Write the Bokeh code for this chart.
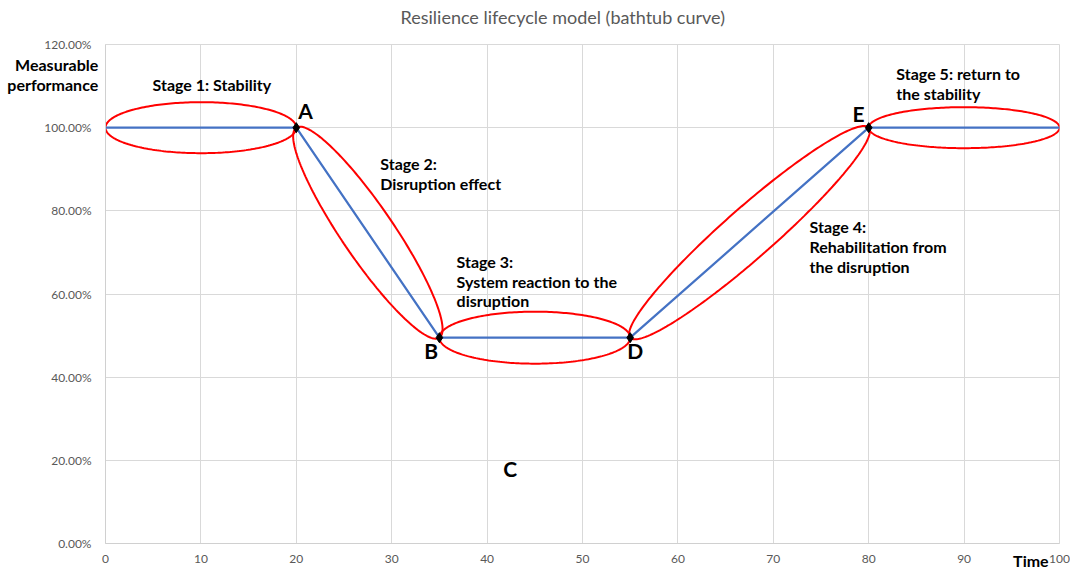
import numpy as np
from bokeh.plotting import figure
from bokeh.models import Range1d, FixedTicker, PrintfTickFormatter, Label, LinearAxis, Title
from bokeh.embed import file_html
from bokeh.resources import INLINE

# ---- data ----
time = [0, 20, 35, 55, 80, 100]
performance = [100, 100, 49.5, 49.5, 100, 100]
point_idx = [1, 2, 3, 4]
stage_names = [
    "Stage 1: Stability",
    "Stage 2:\nDisruption effect",
    "Stage 3:\nSystem reaction to the\ndisruption",
    "Stage 4:\nRehabilitation from\nthe disruption",
    "Stage 5: return to\nthe stability",
]
x_ticks = [0, 10, 20, 30, 40, 50, 60, 70, 80, 90, 100]
y_ticks = [0, 20, 40, 60, 80, 100, 120]

FW, FH = 954, 499
ellipse_minor_px = [25.5, 26, 26, 25, 20.5]

p = figure(frame_width=FW, frame_height=FH, output_backend="svg", toolbar_location=None,
           x_range=Range1d(0, 100), y_range=Range1d(0, 120),
           min_border_left=105, min_border_right=11, min_border_top=44, min_border_bottom=24,
           title="Resilience lifecycle model (bathtub curve)")
p.title.align = "left"
p.title.offset = 295
p.title.standoff = 0
p.title.vertical_align = "bottom"
p.title.text_font = "Lato"
p.title.text_font_style = "normal"
p.title.text_font_size = "18px"
p.title.text_color = "#595959"
# blank spacer between the title and the frame
p.add_layout(Title(text=" ", text_font_size="1px", standoff=14), "above")
p.outline_line_color = "#d9d9d9"
p.background_fill_color = "white"
p.border_fill_color = "white"

xa, ya = p.xaxis[0], p.yaxis[0]
for ax in (xa, ya):
    ax.major_tick_line_color = None
    ax.minor_tick_line_color = None
    ax.axis_line_color = "#d0d0d0"
    ax.major_label_text_color = "#595959"
    ax.major_label_text_font = "Lato"
    ax.major_label_text_font_size = "12px"
xa.ticker = FixedTicker(ticks=x_ticks)
ya.ticker = FixedTicker(ticks=y_ticks)
ya.formatter = PrintfTickFormatter(format="%.2f%%")
xa.major_label_standoff = 5
ya.major_label_standoff = 8
p.xgrid.ticker = FixedTicker(ticks=x_ticks)
p.ygrid.ticker = FixedTicker(ticks=y_ticks)
p.xgrid.grid_line_color = "#d9d9d9"
p.ygrid.grid_line_color = "#d9d9d9"

# y axis title, horizontal, at the top of the axis
ya.axis_label = "\n\n\nMeasurable\nperformance"
ya.axis_label_orientation = "horizontal"
ya.axis_label_standoff = -57
ya.axis_label_text_font = "Lato"
ya.axis_label_text_font_style = "bold"
ya.axis_label_text_font_size = "16px"
ya.axis_label_text_color = "black"
ya.axis_label_text_line_height = 1.05
if "axis_label_align" in ya.properties():
    ya.axis_label_align = "end"

# x axis title "Time", on the tick-label row, left of the last tick label
time_axis = LinearAxis(ticker=FixedTicker(ticks=[97]), major_label_overrides={97: "Time"},
                       axis_line_color=None, major_tick_line_color=None,
                       minor_tick_line_color=None, major_label_text_font="Lato",
                       major_label_text_font_style="bold", major_label_text_font_size="16px",
                       major_label_text_color="black", major_label_standoff=-21)
p.add_layout(time_axis, "below")

# ellipses around each stage segment (screen-consistent)
sx, sy = FW / 100.0, FH / 120.0
th = np.linspace(0, 2 * np.pi, 240)
for i in range(len(time) - 1):
    x1, y1 = time[i] * sx, performance[i] * sy
    x2, y2 = time[i + 1] * sx, performance[i + 1] * sy
    cx, cy = (x1 + x2) / 2, (y1 + y2) / 2
    L = np.hypot(x2 - x1, y2 - y1)
    ux, uy = (x2 - x1) / L, (y2 - y1) / L
    vx, vy = -uy, ux
    a, b = L / 2, ellipse_minor_px[i]
    ex = (cx + a * np.cos(th) * ux + b * np.sin(th) * vx) / sx
    ey = (cy + a * np.cos(th) * uy + b * np.sin(th) * vy) / sy
    p.line(ex, ey, line_color="#ff0000", line_width=2)

p.line(time, performance, line_color="#4472C4", line_width=2.25)
p.scatter([time[i] for i in point_idx], [performance[i] for i in point_idx],
          marker="diamond", size=10, fill_color="black", line_color="black")

letter_pos = {"A": (20.2, 104.1), "B": (33.4, 46.4), "C": (41.7, 18.0),
              "D": (54.7, 46.4), "E": (78.3, 103.4)}
for name, (lx, ly) in letter_pos.items():
    p.add_layout(Label(x=lx, y=ly, text=name, text_font="Lato", text_font_style="bold",
                       text_font_size="21px", text_color="black", text_baseline="alphabetic"))

stage_pos = [(4.93, 112.6), (28.8, 93.6), (36.8, 70.2), (73.8, 78.4), (82.9, 115.2)]
for txt, (lx, ly) in zip(stage_names, stage_pos):
    p.add_layout(Label(x=lx, y=ly, text=txt, text_font="Lato", text_font_style="bold",
                       text_font_size="16px", text_color="black", text_baseline="top",
                       text_line_height=1.05))

open("out.html", "w").write(file_html(p, INLINE))
